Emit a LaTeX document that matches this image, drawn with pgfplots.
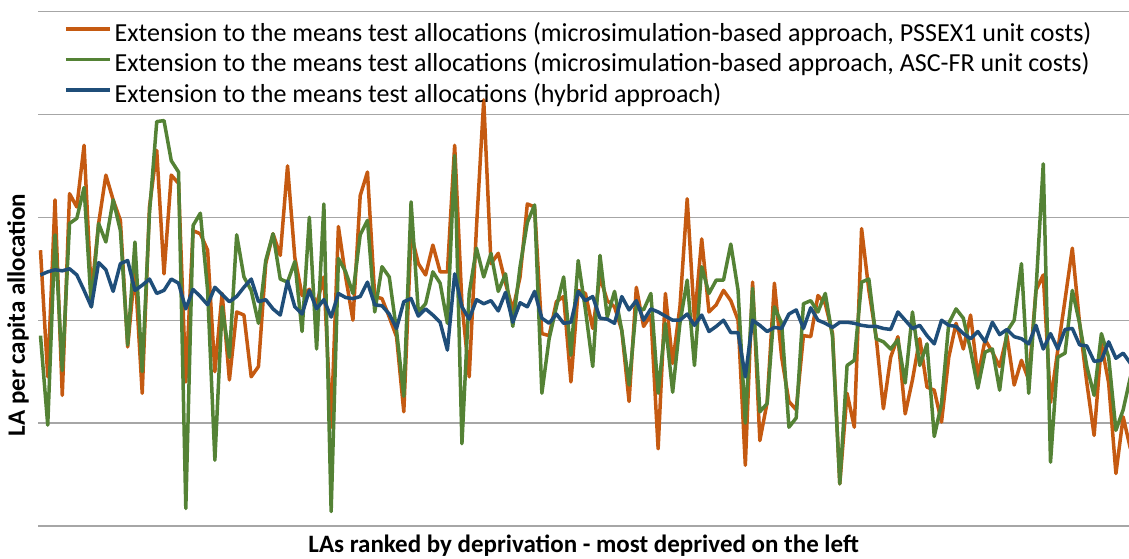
\documentclass[border=0pt]{standalone}
\usepackage{pgfplots}
\pgfplotsset{compat=1.18}
\usepackage{pgfplotstable}
\usepackage{fontspec}
\setmainfont{Carlito}

\definecolor{serO}{RGB}{197,90,17}
\definecolor{serG}{RGB}{84,130,53}
\definecolor{serB}{RGB}{31,78,121}
\definecolor{gridc}{RGB}{166,166,166}

% LA per capita allocations, LAs ranked by deprivation (most deprived first)
\pgfplotstableread{
i pssex ascfr hybrid
0 2.68 1.85 2.44
1 1.45 0.98 2.47
2 3.17 2.83 2.49
3 1.27 1.51 2.48
4 3.23 2.94 2.50
5 3.10 2.99 2.44
6 3.70 3.29 2.29
7 2.25 2.13 2.13
8 2.94 2.94 2.56
9 3.41 2.76 2.49
10 3.17 3.17 2.28
11 2.97 2.87 2.55
12 1.74 1.76 2.58
13 2.50 2.76 2.29
14 1.29 1.50 2.34
15 3.10 3.04 2.40
16 3.65 3.93 2.26
17 2.45 3.94 2.29
18 3.41 3.55 2.40
19 3.33 3.44 2.36
20 1.40 0.17 2.11
21 2.87 2.92 2.30
22 2.84 3.04 2.23
23 2.68 2.29 2.15
24 1.50 0.64 2.32
25 2.26 2.13 2.25
26 1.42 1.64 2.18
27 2.08 2.83 2.23
28 2.05 2.42 2.32
29 1.45 2.29 2.40
30 1.55 1.97 2.18
31 2.55 2.58 2.20
32 2.84 2.84 2.11
33 2.63 2.40 2.05
34 3.50 2.37 2.38
35 2.61 2.57 2.13
36 2.24 1.89 2.06
37 2.30 3.00 2.29
38 2.16 1.72 2.11
39 2.42 3.13 2.20
40 0.96 0.14 2.03
41 2.91 2.60 2.26
42 2.42 2.47 2.22
43 2.00 2.26 2.21
44 3.21 2.83 2.23
45 3.44 2.97 2.37
46 2.23 2.08 2.15
47 2.21 2.52 2.14
48 2.03 2.42 2.06
49 1.84 1.90 1.92
50 1.11 1.26 2.18
51 2.84 3.15 2.21
52 2.55 2.08 2.04
53 2.44 2.16 2.11
54 2.73 2.47 2.05
55 2.47 2.36 1.98
56 2.47 1.97 1.71
57 3.70 3.60 2.45
58 2.16 0.80 2.13
59 1.45 2.26 2.01
60 2.90 2.70 2.20
61 4.14 2.42 2.16
62 2.55 2.65 2.19
63 2.65 2.28 2.09
64 2.36 2.45 2.27
65 2.10 1.94 1.98
66 2.42 2.52 2.17
67 3.13 2.95 2.13
68 3.10 3.12 2.28
69 1.87 1.29 2.02
70 1.85 1.82 1.97
71 2.18 2.13 2.06
72 2.23 2.42 1.97
73 1.40 1.66 1.98
74 2.29 2.58 2.28
75 2.26 2.10 2.19
76 1.92 1.55 2.23
77 2.42 2.63 2.02
78 2.19 2.03 2.01
79 2.13 2.28 1.97
80 1.90 1.90 2.23
81 1.21 1.37 2.10
82 2.32 2.13 2.19
83 1.94 2.10 2.00
84 2.05 2.26 2.11
85 0.75 1.29 2.08
86 2.26 1.97 2.04
87 1.58 1.30 2.00
88 2.13 1.97 2.00
89 3.18 2.39 2.06
90 2.00 1.56 1.95
91 2.79 2.52 2.05
92 2.08 2.26 1.89
93 2.15 2.39 1.94
94 2.29 2.39 2.00
95 2.19 2.74 1.88
96 2.00 2.29 1.88
97 0.59 1.00 1.45
98 2.37 2.31 2.00
99 0.83 1.11 1.95
100 1.20 1.19 1.89
101 2.36 2.13 1.93
102 1.64 1.97 1.92
103 1.21 0.96 2.06
104 1.13 1.05 2.10
105 1.85 2.16 1.92
106 1.84 2.19 2.12
107 2.24 2.08 2.00
108 2.16 2.26 1.97
109 1.87 1.84 1.93
110 0.41 0.41 1.98
111 1.29 1.56 1.98
112 0.96 1.61 1.97
113 2.89 2.37 1.95
114 2.29 2.40 1.94
115 1.84 1.82 1.94
116 1.14 1.79 1.92
117 1.64 1.72 1.91
118 1.84 1.81 2.08
119 1.09 1.39 2.00
120 1.42 2.08 1.92
121 1.82 1.56 1.95
122 1.35 1.77 1.85
123 1.32 0.87 1.77
124 1.01 1.19 2.00
125 1.64 1.97 1.95
126 1.97 2.11 1.94
127 1.72 2.02 1.87
128 2.05 1.71 1.82
129 1.45 1.34 1.89
130 1.81 1.69 1.79
131 1.69 1.72 1.98
132 1.55 1.32 1.86
133 1.85 1.89 1.91
134 1.37 2.00 1.84
135 1.61 2.55 1.82
136 1.42 1.29 1.77
137 2.29 2.29 1.95
138 2.44 3.52 1.72
139 1.20 0.62 1.87
140 1.71 1.64 1.72
141 2.20 1.68 1.91
142 2.70 2.29 1.92
143 1.97 1.97 1.76
144 1.39 1.55 1.75
145 0.88 1.27 1.60
146 1.77 1.87 1.61
147 1.39 1.64 1.79
148 0.51 0.93 1.63
149 1.06 1.13 1.68
150 0.75 1.45 1.58
}\alloc

\begin{document}
\begin{tikzpicture}
\useasboundingbox (0,0) rectangle (1129pt,558pt);
\begin{axis}[
    at={(38.3pt,32pt)}, anchor=south west,
    scale only axis,
    width=1090.7pt, height=514.5pt,
    xmin=-0.3, xmax=149.8,
    ymin=0, ymax=5,
    axis line style={draw=none},
    xtick=\empty,
    ytick={0,1,2,3,4,5}, yticklabels={},
    major tick length=0pt,
    ymajorgrids=true,
    grid style={draw=gridc, line width=1.3pt},
    xlabel={\bfseries LAs ranked by deprivation - most deprived on the left},
    ylabel={\bfseries LA per capita allocation},
    label style={font=\fontsize{25}{30}\selectfont, inner sep=0pt},
    xlabel style={at={(axis description cs:0.5,-0.0515)}, anchor=base},
    ylabel style={at={(axis description cs:-0.0186,0.41)}, anchor=center},
    every axis plot/.append style={line width=3.5pt, line join=round, no markers},
    legend image code/.code={\draw[#1] (0pt,0.33em) -- (44pt,0.33em);},
    legend cell align=left,
    legend style={
      at={(axis description cs:0.0236,0.980)}, anchor=north west,
      draw=none, fill=none, inner sep=0pt,
      font=\fontsize{26}{31}\selectfont,
      nodes={inner xsep=3pt, inner ysep=0pt},
      row sep=10pt,
    },
]
\addplot[serO] table[x=i, y=pssex] {\alloc};
\addlegendentry{Extension to the means test allocations (microsimulation-based approach, PSSEX1 unit costs)}
\addplot[serG] table[x=i, y=ascfr] {\alloc};
\addlegendentry{Extension to the means test allocations (microsimulation-based approach, ASC-FR unit costs)}
\addplot[serB] table[x=i, y=hybrid] {\alloc};
\addlegendentry{Extension to the means test allocations (hybrid approach)}
\end{axis}
\end{tikzpicture}
\end{document}
